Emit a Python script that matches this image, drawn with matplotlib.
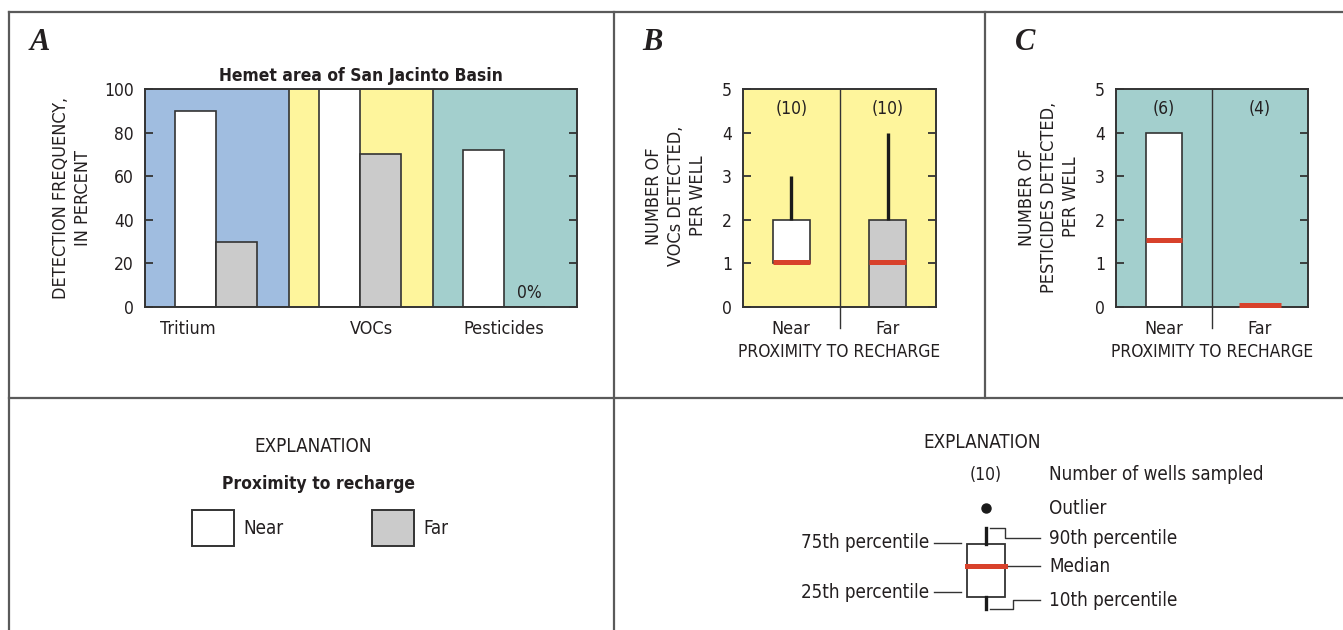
import numpy as np
import matplotlib
matplotlib.use("Agg")
import matplotlib.pyplot as plt
from matplotlib import font_manager
from matplotlib.patches import Rectangle

# ---- data ----
groups = ['Tritium', 'VOCs', 'Pesticides']
near_pct = [90, 100, 72]
far_pct = [30, 70, 0]
group_colors = ['#a0bde0', '#fef59c', '#a3cfcd']

prox = ['Near', 'Far']
voc_n = [10, 10]
voc_q1 = [1, 0]
voc_med = [1, 1]
voc_q3 = [2, 2]
voc_p90 = [3, 4]

pest_n = [6, 4]
pest_q1 = [0, 0]
pest_med = [1.5, 0]
pest_q3 = [4, 0]
pest_p90 = [4, 0]

# ---- fonts ----
names = set(f.name for f in font_manager.fontManager.ttflist)
if 'Liberation Sans Narrow' in names:
    plt.rcParams['font.family'] = ['Liberation Sans Narrow', 'DejaVu Sans']
else:
    plt.rcParams['font.family'] = ['DejaVu Sans']
    plt.rcParams['font.stretch'] = 'condensed'
serif = 'Liberation Serif' if 'Liberation Serif' in names else 'DejaVu Serif'

W, H = 1343, 630
fig = plt.figure(figsize=(W / 100, H / 100), dpi=100)
fig.patch.set_facecolor('white')

TXT = '#231f20'
EDGE = '#333333'
RED = '#d8412b'
GRAY = '#cbcbcb'
FS = 12.5
FL = 13.5   # legend / label text


def px_axes(x0, y0, x1, y1):
    return fig.add_axes([x0 / W, 1 - y1 / H, (x1 - x0) / W, (y1 - y0) / H])


# overlay in pixel coordinates for frame and legends
ov = fig.add_axes([0, 0, 1, 1], zorder=-1)
ov.set_xlim(0, W)
ov.set_ylim(H, 0)
ov.axis('off')
lc = '#5a5a5a'
ov.plot([9, 9], [12, H], color=lc, lw=1.6)
ov.plot([9, W], [12, 12], color=lc, lw=1.6)
ov.plot([9, W], [398, 398], color=lc, lw=1.6)
ov.plot([614, 614], [12, H], color=lc, lw=1.6)
ov.plot([985, 985], [12, 398], color=lc, lw=1.6)

for x, lab in [(30, 'A'), (642, 'B'), (1015, 'C')]:
    ov.text(x, 42, lab, fontsize=22, fontweight='bold', fontstyle='italic',
            family=serif, color=TXT, va='center', ha='left')


def style_axes(ax, ymax, step):
    ax.set_ylim(0, ymax)
    ax.set_yticks(np.arange(0, ymax + 0.01, step))
    ax.tick_params(axis='y', direction='in', length=6, width=1.3, right=True,
                   labelsize=FS, pad=8, colors=EDGE, labelcolor=TXT)
    ax.tick_params(axis='x', length=0, labelsize=13, pad=9, labelcolor=TXT)
    for s in ax.spines.values():
        s.set_color(EDGE)
        s.set_linewidth(1.4)


# ---- panel A ----
axA = px_axes(145, 89, 577, 307)
axA.set_xlim(0, 3)
x = np.arange(len(groups))
bw = 0.285
for i, c in enumerate(group_colors):
    axA.axvspan(i, i + 1, color=c, zorder=0, lw=0)
    if i > 0:
        axA.axvline(i, color=EDGE, lw=1.2, zorder=1)
axA.bar(x + 0.35, near_pct, bw, color='white', edgecolor=EDGE, lw=1.2, zorder=2)
axA.bar(x + 0.635, far_pct, bw, color=GRAY, edgecolor=EDGE, lw=1.2, zorder=2)
for i in range(len(groups)):
    if far_pct[i] == 0:
        axA.text(i + 0.67, 6.5, '0%', fontsize=FS, color=TXT, ha='center', va='center')
style_axes(axA, 100, 20)
axA.set_xticks([0.3, 1.57, 2.49])
axA.set_xticklabels(groups)
axA.set_title('Hemet area of San Jacinto Basin', fontsize=FS, fontweight='bold',
              color=TXT, pad=6)
ov.text(72, 198, 'DETECTION FREQUENCY,\nIN PERCENT', rotation=90, fontsize=13,
        ha='center', va='center', color=TXT, linespacing=1.3)


def box_panel(ax, n, q1, med, q3, p90, color):
    ax.set_xlim(0, 2)
    ax.set_facecolor(color)
    ax.axvline(1, ymin=-0.096, ymax=1, color=EDGE, lw=1.0, clip_on=False, zorder=1)
    pos = np.array([0.5, 1.5])
    fills = ['white', GRAY]
    for i in range(2):
        if q3[i] > q1[i]:
            ax.bar(pos[i], q3[i] - q1[i], 0.38, bottom=q1[i], color=fills[i],
                   edgecolor=EDGE, lw=1.2, zorder=2)
        if p90[i] > q3[i]:
            ax.vlines(pos[i], q3[i], p90[i], color='#1a1a1a', lw=2.4, zorder=2)
        mw = 0.38 if q3[i] > q1[i] else 0.44
        ax.hlines(med[i] + 0.04, pos[i] - mw / 2, pos[i] + mw / 2, color=RED,
                  lw=3.6, zorder=3, clip_on=False)
        ax.text(pos[i], 4.53, '(%d)' % n[i], fontsize=FS, color=TXT,
                ha='center', va='center')
    style_axes(ax, 5, 1)
    ax.set_xticks(pos)
    ax.set_xticklabels(prox)
    ax.set_xlabel('PROXIMITY TO RECHARGE', fontsize=FS, color=TXT, labelpad=4)


axB = px_axes(743, 89, 936, 307)
box_panel(axB, voc_n, voc_q1, voc_med, voc_q3, voc_p90, group_colors[1])
ov.text(676, 196, 'NUMBER OF\nVOCs DETECTED,\nPER WELL', rotation=90, fontsize=13,
        ha='center', va='center', color=TXT, linespacing=1.3)

axC = px_axes(1116, 89, 1308, 307)
box_panel(axC, pest_n, pest_q1, pest_med, pest_q3, pest_p90, group_colors[2])
ov.text(1049, 197, 'NUMBER OF\nPESTICIDES DETECTED,\nPER WELL', rotation=90,
        fontsize=13, ha='center', va='center', color=TXT, linespacing=1.3)

# ---- explanation, left ----
ov.text(313, 447, 'EXPLANATION', fontsize=FL, ha='center', va='center', color=TXT)
ov.text(318, 484, 'Proximity to recharge', fontsize=FS, fontweight='bold',
        ha='center', va='center', color=TXT)
for bx, lab, fc in [(192, 'Near', 'white'), (372, 'Far', GRAY)]:
    ov.add_patch(Rectangle((bx, 510), 42, 36, facecolor=fc, edgecolor=EDGE, lw=1.4))
    ov.text(bx + 51, 529, lab, fontsize=FL, ha='left', va='center', color=TXT)

# ---- explanation, right ----
cx = 986
ov.text(982, 443, 'EXPLANATION', fontsize=FL, ha='center', va='center', color=TXT)
ov.text(cx, 475, '(10)', fontsize=FS, ha='center', va='center', color=TXT)
ov.text(1049, 475, 'Number of wells sampled', fontsize=FL, ha='left', va='center', color=TXT)
ov.plot([cx], [508], 'o', color='#1a1a1a', ms=6.5)
ov.text(1049, 508, 'Outlier', fontsize=FL, ha='left', va='center', color=TXT)
ov.add_patch(Rectangle((cx - 19, 544), 38, 53, facecolor='white', edgecolor=EDGE, lw=1.3))
ov.plot([cx, cx], [528, 544], color='#1a1a1a', lw=2.4)
ov.plot([cx, cx], [597, 609], color='#1a1a1a', lw=2.4)
ov.plot([cx - 19, cx + 19], [566, 566], color=RED, lw=3.6)
ov.text(929, 543, '75th percentile', fontsize=FL, ha='right', va='center', color=TXT)
ov.text(929, 592, '25th percentile', fontsize=FL, ha='right', va='center', color=TXT)
ov.plot([934, 961], [543, 543], color=EDGE, lw=1)
ov.plot([934, 961], [592, 592], color=EDGE, lw=1)
ov.plot([990, 1005, 1005, 1040], [528, 528, 538, 538], color=EDGE, lw=1)
ov.plot([1008, 1040], [566, 566], color=EDGE, lw=1)
ov.plot([990, 1013, 1013, 1040], [609, 609, 600, 600], color=EDGE, lw=1)
ov.text(1049, 538, '90th percentile', fontsize=FL, ha='left', va='center', color=TXT)
ov.text(1049, 566, 'Median', fontsize=FL, ha='left', va='center', color=TXT)
ov.text(1049, 600, '10th percentile', fontsize=FL, ha='left', va='center', color=TXT)

fig.savefig('out.png', dpi=100)
